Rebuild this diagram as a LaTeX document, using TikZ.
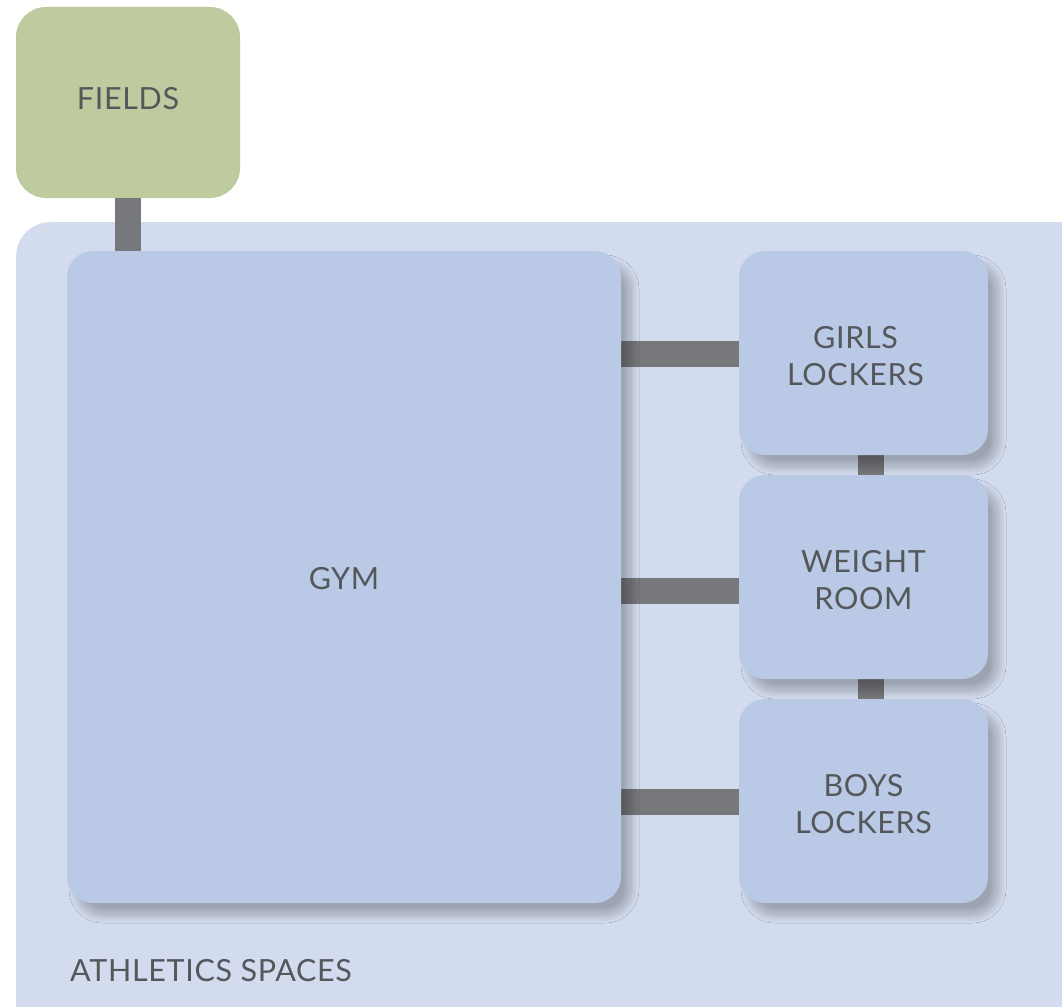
\documentclass[tikz,border=0pt]{standalone}
\usepackage{fontspec}
\setmainfont[LetterSpace=2.2]{Lato}
\usetikzlibrary{positioning,shadows.blur}
\definecolor{spacefill}{HTML}{D3DCEE}
\definecolor{roomfill}{HTML}{BAC9E6}
\definecolor{fieldfill}{HTML}{BDCB9F}
\definecolor{linkgray}{HTML}{77787C}
\definecolor{textgray}{HTML}{55585B}
\begin{document}
\begin{tikzpicture}[x=1pt,y=-1pt,
	roomtext/.style={text=textgray,font=\fontsize{30.5}{37}\selectfont},
	room/.style={rectangle,rounded corners=26pt,fill=roomfill,inner sep=0pt,align=center,roomtext,
		text height=65.6pt,text depth=0pt,
		blur shadow={shadow xshift=10pt,shadow yshift=-12pt,shadow blur radius=8pt,shadow blur steps=24,shadow opacity=26}},
	link/.style={draw=linkgray,line width=26pt}]
	\useasboundingbox (0,0) rectangle (1062,1006);
	\clip (0,0) rectangle (1062,1006);
	% outer area and fields
	\node[rectangle,rounded corners=34pt,fill=spacefill,minimum width=1100pt,minimum height=820pt,anchor=north west] (athletics) at (16,222) {};
	\node[roomtext,anchor=base west,inner sep=0pt] (label) at (70,981) {ATHLETICS SPACES};
	\node[rectangle,rounded corners=30pt,fill=fieldfill,minimum width=224pt,minimum height=191pt,inner sep=0pt,
		roomtext,text height=22pt,text depth=7.4pt] (fields) at (128,102.5) {FIELDS};
	% rooms, placed by coordinate
	\coordinate (gymc) at (344,577);
	\coordinate (girlsc) at (863.5,353);
	\coordinate (weightc) at (863.5,577);
	\coordinate (boysc) at (863.5,801);
	% links go under the rooms
	\draw[link] (128,198) -- (128,252);
	\draw[link] (621,354) -- (740,354);
	\draw[link] (621,591) -- (740,591);
	\draw[link] (621,802) -- (740,802);
	\draw[link] (871,454) -- (871,476);
	\draw[link] (871,678) -- (871,700);
	\node[room,minimum width=554pt,minimum height=652pt,text height=25.6pt] (gym) at (gymc) {GYM};
	\node[room,minimum width=249pt,minimum height=204pt] (girls) at (girlsc) {\hspace*{-16pt}GIRLS\\\hspace*{-16pt}LOCKERS};
	\node[room,minimum width=249pt,minimum height=204pt] (weight) at (weightc) {WEIGHT\\ROOM};
	\node[room,minimum width=249pt,minimum height=204pt] (boys) at (boysc) {BOYS\\LOCKERS};
\end{tikzpicture}
\end{document}
